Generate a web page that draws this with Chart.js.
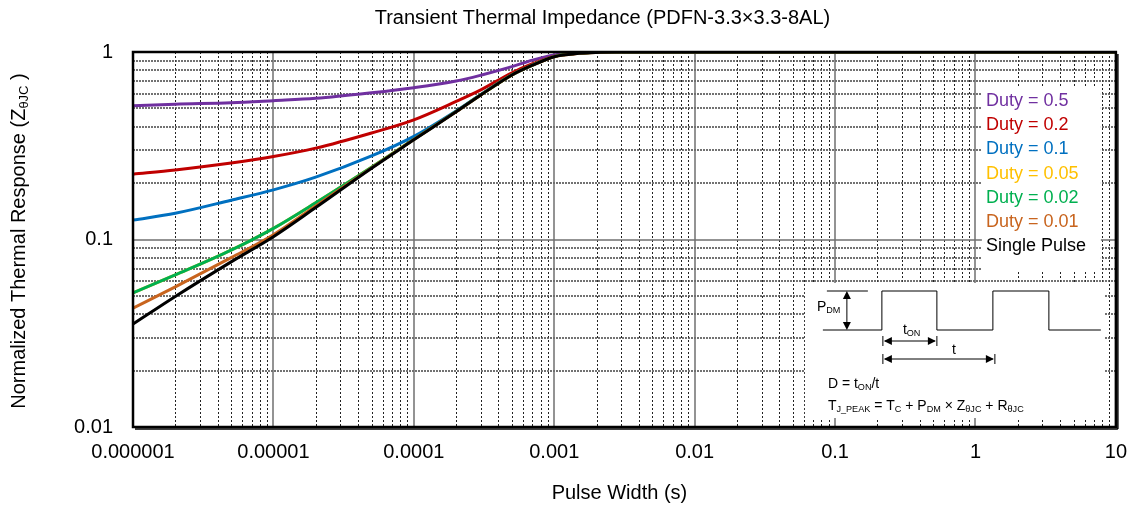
<!DOCTYPE html>
<html>
<head>
<meta charset="utf-8">
<script src="https://cdn.jsdelivr.net/npm/chart.js@4.4.1/dist/chart.umd.min.js"></script>
<style>
  html, body { margin: 0; padding: 0; background: #fff; }
  #wrap { width: 1140px; height: 508px; }
</style>
</head>
<body>
<div id="wrap"><canvas id="chart" width="1140" height="508"></canvas></div>
<script>
// ---------- Data ----------
const pulseWidths = [1e-6, 2e-6, 5e-6, 1e-5, 2e-5, 5e-5, 1e-4, 2e-4, 3e-4, 5e-4, 7e-4, 1e-3, 1.5e-3, 2e-3, 3e-3, 5e-3, 1e-2, 1e-1, 1, 10];

const duty05      = [0.517, 0.527, 0.536, 0.550, 0.566, 0.606, 0.645, 0.700, 0.752, 0.835, 0.905, 0.964, 0.990, 0.997, 1, 1, 1, 1, 1, 1];
const duty02      = [0.223, 0.235, 0.256, 0.277, 0.307, 0.370, 0.435, 0.545, 0.628, 0.775, 0.866, 0.948, 0.986, 0.996, 0.999, 1, 1, 1, 1, 1];
const duty01      = [0.127, 0.138, 0.162, 0.184, 0.215, 0.279, 0.355, 0.485, 0.594, 0.756, 0.852, 0.945, 0.985, 0.996, 0.999, 1, 1, 1, 1, 1];
const duty005     = [0.0519, 0.0647, 0.0877, 0.1146, 0.157, 0.243, 0.342, 0.481, 0.591, 0.755, 0.851, 0.945, 0.985, 0.996, 0.999, 1, 1, 1, 1, 1];
const duty002     = [0.0519, 0.0647, 0.0877, 0.1146, 0.157, 0.243, 0.342, 0.481, 0.591, 0.755, 0.851, 0.945, 0.985, 0.996, 0.999, 1, 1, 1, 1, 1];
const duty001     = [0.0430, 0.0559, 0.0800, 0.1060, 0.151, 0.241, 0.341, 0.480, 0.590, 0.754, 0.850, 0.944, 0.984, 0.995, 0.999, 1, 1, 1, 1, 1];
const singlePulse = [0.0354, 0.0497, 0.0760, 0.1035, 0.148, 0.240, 0.340, 0.480, 0.590, 0.754, 0.850, 0.944, 0.984, 0.995, 0.999, 1, 1, 1, 1, 1];

const seriesLabels = ["Duty = 0.5", "Duty = 0.2", "Duty = 0.1", "Duty = 0.05", "Duty = 0.02", "Duty = 0.01", "Single Pulse"];
const seriesColors = ["#7030A0", "#C00000", "#0070C0", "#FFC000", "#00B050", "#C8641E", "#000000"];
const seriesValues = [duty05, duty02, duty01, duty005, duty002, duty001, singlePulse];

const xDecades = [1e-6, 1e-5, 1e-4, 1e-3, 1e-2, 1e-1, 1, 10];
const xTickLabels = ["0.000001", "0.00001", "0.0001", "0.001", "0.01", "0.1", "1", "10"];
const yDecades = [0.01, 0.1, 1];
const yTickLabels = ["0.01", "0.1", "1"];

const FONT = "'Liberation Sans', Arial, sans-serif";

// ---------- Helpers ----------
function isDecade(v) {
    const e = Math.log10(v);
    return Math.abs(e - Math.round(e)) < 1e-6;
}

function decadeLabel(v, decades, labels) {
    for (let i = 0; i < decades.length; i++) {
        if (Math.abs(v / decades[i] - 1) < 1e-6) return labels[i];
    }
    return "";
}

// 1..9 x 10^n between the first and last decade
function logTicks(decades) {
    const out = [];
    for (let i = 0; i < decades.length - 1; i++) {
        for (let m = 1; m <= 9; m++) out.push({ value: +(m * decades[i]).toPrecision(6) });
    }
    out.push({ value: decades[decades.length - 1] });
    return out;
}

// parts: [text, isSubscript]
function richText(ctx, parts, x, y, size, align) {
    let w = 0;
    parts.forEach(p => {
        ctx.font = (p[1] ? size * 0.65 : size) + "px " + FONT;
        w += ctx.measureText(p[0]).width;
    });
    let cx = align === "center" ? x - w / 2 : x;
    ctx.textAlign = "left";
    ctx.textBaseline = "middle";
    parts.forEach(p => {
        const s = p[1] ? size * 0.65 : size;
        ctx.font = s + "px " + FONT;
        ctx.fillText(p[0], cx, p[1] ? y + size * 0.28 : y);
        cx += ctx.measureText(p[0]).width;
    });
}

function line(ctx, x1, y1, x2, y2) {
    ctx.beginPath(); ctx.moveTo(x1, y1); ctx.lineTo(x2, y2); ctx.stroke();
}

function arrowHead(ctx, x, y, dir) {
    // dir: 'l','r','u','d'
    const L = 8, W = 4;
    ctx.beginPath();
    if (dir === "l") { ctx.moveTo(x, y); ctx.lineTo(x + L, y - W); ctx.lineTo(x + L, y + W); }
    if (dir === "r") { ctx.moveTo(x, y); ctx.lineTo(x - L, y - W); ctx.lineTo(x - L, y + W); }
    if (dir === "u") { ctx.moveTo(x, y); ctx.lineTo(x - W, y + L); ctx.lineTo(x + W, y + L); }
    if (dir === "d") { ctx.moveTo(x, y); ctx.lineTo(x - W, y - L); ctx.lineTo(x + W, y - L); }
    ctx.closePath();
    ctx.fill();
}

// ---------- Plugins ----------
const gridAndBoxes = {
    id: "gridAndBoxes",
    beforeDatasetsDraw(chart) {
        const { ctx, chartArea: ca, scales: { x, y } } = chart;
        ctx.save();

        // minor grid
        ctx.strokeStyle = "#222";
        ctx.lineWidth = 1;
        ctx.setLineDash([2, 2]);
        x.ticks.forEach(t => {
            if (isDecade(t.value)) return;
            const px = Math.round(x.getPixelForValue(t.value)) + 0.5;
            line(ctx, px, ca.top, px, ca.bottom);
        });
        ctx.strokeStyle = "#444";
        ctx.lineWidth = 1.5;
        ctx.setLineDash([2, 1]);
        y.ticks.forEach(t => {
            if (isDecade(t.value)) return;
            const py = Math.round(y.getPixelForValue(t.value));
            line(ctx, ca.left, py, ca.right, py);
        });

        // major grid
        ctx.setLineDash([]);
        ctx.strokeStyle = "#6f6f6f";
        ctx.lineWidth = 1.5;
        x.ticks.forEach(t => {
            if (!isDecade(t.value)) return;
            const px = Math.round(x.getPixelForValue(t.value));
            line(ctx, px, ca.top, px, ca.bottom);
        });
        y.ticks.forEach(t => {
            if (!isDecade(t.value)) return;
            const py = Math.round(y.getPixelForValue(t.value));
            line(ctx, ca.left, py, ca.right, py);
        });

        // white panels for legend and pulse diagram
        ctx.fillStyle = "#fff";
        ctx.fillRect(ca.right - 134, ca.top + 36, 119, 184);
        ctx.fillRect(ca.right - 311, ca.bottom - 144, 300, 135);
        ctx.restore();
    },
    afterDatasetsDraw(chart) {
        const { ctx, chartArea: ca } = chart;
        ctx.save();

        // frame
        ctx.strokeStyle = "#000";
        ctx.lineWidth = 2.5;
        ctx.strokeRect(ca.left, ca.top, ca.right - ca.left, ca.bottom - ca.top);
        ctx.lineWidth = 1.5;
        line(ctx, ca.right + 2, ca.top + 2, ca.right + 2, ca.bottom + 2);
        line(ctx, ca.left + 2, ca.bottom + 2, ca.right + 2, ca.bottom + 2);

        // legend text
        const lx = ca.right - 130, ly = ca.top + 49;
        ctx.font = "18px " + FONT;
        ctx.textAlign = "left";
        ctx.textBaseline = "middle";
        seriesLabels.forEach((lab, i) => {
            ctx.fillStyle = seriesColors[i];
            ctx.fillText(lab, lx, ly + i * 24.2);
        });

        // pulse diagram
        const bx = ca.right - 311, by = ca.bottom - 144;
        const top = by + 8, base = by + 47;
        ctx.strokeStyle = "#000";
        ctx.fillStyle = "#000";
        ctx.lineWidth = 1;
        line(ctx, bx + 22, top, bx + 63, top);
        line(ctx, bx + 18, base, bx + 77, base);
        ctx.beginPath();
        ctx.moveTo(bx + 77, base);
        ctx.lineTo(bx + 77, top); ctx.lineTo(bx + 132, top); ctx.lineTo(bx + 132, base);
        ctx.lineTo(bx + 188, base); ctx.lineTo(bx + 188, top); ctx.lineTo(bx + 244, top);
        ctx.lineTo(bx + 244, base); ctx.lineTo(bx + 296, base);
        ctx.stroke();
        // P_DM arrow
        line(ctx, bx + 42, top + 2, bx + 42, base - 2);
        arrowHead(ctx, bx + 42, top, "u");
        arrowHead(ctx, bx + 42, base, "d");
        // t_ON arrow
        const yOn = by + 58;
        line(ctx, bx + 78, yOn - 5, bx + 78, yOn + 5);
        line(ctx, bx + 132, yOn - 5, bx + 132, yOn + 5);
        line(ctx, bx + 80, yOn, bx + 130, yOn);
        arrowHead(ctx, bx + 79, yOn, "l");
        arrowHead(ctx, bx + 131, yOn, "r");
        // t arrow
        const yT = by + 76;
        line(ctx, bx + 78, yT - 5, bx + 78, yT + 5);
        line(ctx, bx + 190, yT - 5, bx + 190, yT + 5);
        line(ctx, bx + 80, yT, bx + 188, yT);
        arrowHead(ctx, bx + 79, yT, "l");
        arrowHead(ctx, bx + 189, yT, "r");

        richText(ctx, [["P", 0], ["DM", 1]], bx + 12, by + 24, 14, "left");
        richText(ctx, [["t", 0], ["ON", 1]], bx + 98, by + 47, 14, "left");
        richText(ctx, [["t", 0]], bx + 149, by + 67, 14, "center");
        richText(ctx, [["D = t", 0], ["ON", 1], ["/t", 0]], bx + 23, by + 101, 14, "left");
        richText(ctx, [["T", 0], ["J_PEAK", 1], [" = T", 0], ["C", 1], [" + P", 0], ["DM", 1],
                       [" \u00D7 Z", 0], ["\u03B8JC", 1], [" + R", 0], ["\u03B8JC", 1]],
                 bx + 23, by + 123, 14, "left");

        // titles
        const mid = (ca.left + ca.right) / 2;
        ctx.fillStyle = "#000";
        ctx.font = "20px " + FONT;
        ctx.textAlign = "center";
        ctx.textBaseline = "middle";
        ctx.fillText("Transient Thermal Impedance (PDFN-3.3\u00D73.3-8AL)", mid - 22, 18);
        ctx.fillText("Pulse Width (s)", mid - 5, 493);

        ctx.translate(19, 241);
        ctx.rotate(-Math.PI / 2);
        ctx.fillStyle = "#000";
        richText(ctx, [["Normalized Thermal Response (Z", 0], ["\u03B8JC", 1], [" )", 0]], 0, 0, 20, "center");
        ctx.restore();
    }
};

// ---------- Chart ----------
const drawOrder = [6, 5, 3, 4, 2, 1, 0]; // black on top

const datasets = seriesLabels.map((lab, i) => ({
    label: lab,
    data: pulseWidths.map((t, j) => ({ x: t, y: seriesValues[i][j] })),
    borderColor: seriesColors[i],
    backgroundColor: seriesColors[i],
    borderWidth: 3,
    pointRadius: 0,
    fill: false,
    cubicInterpolationMode: "monotone",
    order: drawOrder[i]
}));

new Chart(document.getElementById("chart").getContext("2d"), {
    type: "line",
    data: { datasets: datasets },
    options: {
        responsive: false,
        animation: false,
        devicePixelRatio: 1,
        layout: { padding: { top: 52, right: 19, left: 0, bottom: 0 } },
        plugins: { legend: { display: false }, title: { display: false }, tooltip: { enabled: false } },
        scales: {
            x: {
                type: "logarithmic",
                min: 1e-6,
                max: 10,
                grid: { display: false, drawTicks: false },
                border: { display: false },
                afterBuildTicks: s => { s.ticks = logTicks(xDecades); },
                afterFit: s => { s.height = 81; },
                ticks: {
                    autoSkip: false,
                    maxRotation: 0,
                    padding: 13,
                    color: "#000",
                    font: { family: FONT, size: 20 },
                    callback: v => decadeLabel(v, xDecades, xTickLabels)
                }
            },
            y: {
                type: "logarithmic",
                min: 0.01,
                max: 1,
                grid: { display: false, drawTicks: false },
                border: { display: false },
                afterBuildTicks: s => { s.ticks = logTicks(yDecades); },
                afterFit: s => { s.width = 133; },
                ticks: {
                    autoSkip: false,
                    padding: 20,
                    color: "#000",
                    font: { family: FONT, size: 20 },
                    callback: v => decadeLabel(v, yDecades, yTickLabels)
                }
            }
        }
    },
    plugins: [gridAndBoxes]
});
</script>
</body>
</html>
